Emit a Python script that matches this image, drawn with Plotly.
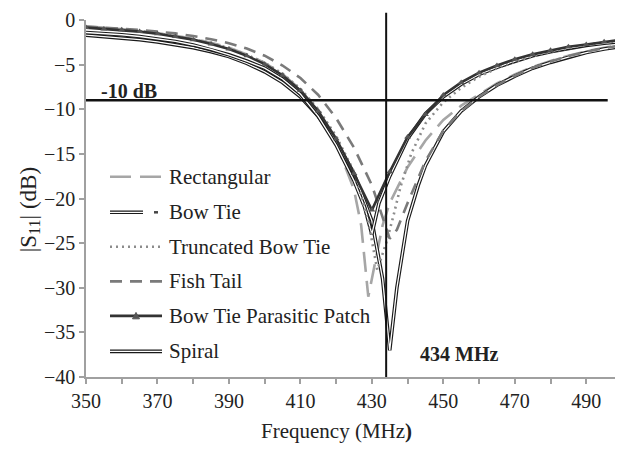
import plotly.graph_objects as go

# ---------------- data ----------------
freq_btpp = [350, 355, 360, 365, 370, 375, 380, 385, 390, 395, 400, 405, 410, 415, 420,
             425, 430, 435, 440, 445, 450, 455, 460, 465, 470, 475, 480, 485, 490, 495, 500]
s11_btpp = [-0.85, -1.0, -1.1, -1.3, -1.55, -1.85, -2.2, -2.7, -3.25, -4.0, -4.95, -6.2, -7.9,
            -10.2, -13.3, -17.2, -21.3, -17.0, -13.1, -10.6, -8.4, -7.0, -5.9, -5.1, -4.4,
            -3.85, -3.4, -3.0, -2.75, -2.45, -2.2]

freq_rect = [350, 355, 360, 365, 370, 375, 380, 385, 390, 395, 400, 405, 410, 415, 420, 425,
             427, 429, 431, 433, 435, 440, 445, 450, 455, 460, 465, 470, 475, 480, 485, 490, 495, 500]
s11_rect = [-0.7, -0.85, -1.0, -1.2, -1.45, -1.75, -2.1, -2.55, -3.1, -3.85, -4.8, -6.05, -7.8,
            -10.3, -13.8, -19.0, -23.0, -31.0, -27.0, -23.0, -20.5, -16.5, -13.5, -11.2, -9.6,
            -8.3, -7.1, -6.1, -5.25, -4.6, -4.0, -3.5, -3.1, -2.8]

freq_bowtie = [350, 355, 360, 365, 370, 375, 380, 385, 390, 395, 400, 405, 410, 415, 420, 425,
               428, 430, 432, 435, 440, 445, 450, 455, 460, 465, 470, 475, 480, 485, 490, 495, 500]
s11_bowtie = [-1.4, -1.5, -1.65, -1.85, -2.1, -2.4, -2.8, -3.3, -3.9, -4.6, -5.4, -6.6, -8.3,
              -10.8, -14.0, -18.0, -21.0, -24.0, -20.5, -17.5, -13.3, -10.5, -8.6, -7.2, -6.1,
              -5.3, -4.6, -4.0, -3.55, -3.15, -2.85, -2.6, -2.4]

freq_trunc = [350, 355, 360, 365, 370, 375, 380, 385, 390, 395, 400, 405, 410, 415, 420, 425,
              429, 431.5, 434, 436, 438, 441, 445, 450, 455, 460, 465, 470, 475, 480, 485, 490, 495, 500]
s11_trunc = [-0.8, -0.95, -1.05, -1.25, -1.5, -1.8, -2.15, -2.6, -3.15, -3.9, -4.8, -6.0, -7.7,
             -10.0, -13.0, -17.0, -22.5, -28.0, -25.0, -22.0, -18.7, -15.0, -11.6, -9.2, -7.6,
             -6.35, -5.4, -4.65, -4.05, -3.55, -3.15, -2.8, -2.5, -2.3]

freq_fish = [350, 355, 360, 365, 370, 375, 380, 385, 390, 395, 400, 405, 410, 415, 420, 425,
             430, 433, 435, 437, 440, 445, 450, 455, 460, 465, 470, 475, 480, 485, 490, 495, 500]
s11_fish = [-0.75, -0.85, -0.95, -1.1, -1.3, -1.5, -1.8, -2.15, -2.6, -3.2, -4.0, -5.1, -6.5,
            -8.4, -11.0, -14.3, -18.5, -22.0, -24.5, -23.5, -20.5, -15.8, -12.4, -10.2, -8.6,
            -7.3, -6.25, -5.35, -4.65, -4.05, -3.55, -3.15, -2.85]

freq_spiral = [350, 355, 360, 365, 370, 375, 380, 385, 390, 395, 400, 405, 410, 415, 420, 425,
               430, 433, 435, 437, 440, 443, 445, 450, 455, 460, 465, 470, 475, 480, 485, 490, 495, 500]
s11_spiral = [-1.7, -1.85, -2.0, -2.2, -2.45, -2.75, -3.1, -3.55, -4.1, -4.85, -5.8, -7.0, -8.6,
              -10.8, -13.6, -17.2, -22.5, -29.0, -37.0, -30.0, -22.5, -18.5, -16.3, -12.5, -10.2,
              -8.6, -7.3, -6.3, -5.4, -4.75, -4.15, -3.65, -3.25, -2.95]

legend_names = ["Rectangular", "Bow Tie", "Truncated Bow Tie", "Fish Tail",
                "Bow Tie Parasitic Patch", "Spiral"]

ref_level_db = -9.0
ref_line_x = [350, 496]
marker_freq = 434
x_tick_step = 20
y_tick_step = 5

FONT = "Liberation Serif, Times New Roman, DejaVu Serif, serif"
DARK = "#1a1a1a"

fig = go.Figure()


def add_double(x, y, name):
    fig.add_trace(go.Scatter(x=x, y=y, mode="lines", name=name, showlegend=False,
                             line=dict(color=DARK, width=3.6)))
    fig.add_trace(go.Scatter(x=x, y=y, mode="lines", name=name, showlegend=False,
                             hoverinfo="skip", line=dict(color="white", width=1.3)))


fig.add_trace(go.Scatter(x=freq_rect, y=s11_rect, mode="lines", name=legend_names[0], showlegend=False,
                         line=dict(color="#a6a6a6", width=2.6, dash="20px,9px")))
add_double(freq_spiral, s11_spiral, legend_names[5])
add_double(freq_bowtie, s11_bowtie, legend_names[1])
fig.add_trace(go.Scatter(x=freq_trunc, y=s11_trunc, mode="lines", name=legend_names[2], showlegend=False,
                         line=dict(color="#8c8c8c", width=2.6, dash="2px,4px")))
fig.add_trace(go.Scatter(x=freq_fish, y=s11_fish, mode="lines", name=legend_names[3], showlegend=False,
                         line=dict(color="#7a7a7a", width=2.6, dash="12px,8px")))
fig.add_trace(go.Scatter(x=freq_btpp, y=s11_btpp, mode="lines+markers", name=legend_names[4],
                         showlegend=False, line=dict(color="#333333", width=2.6),
                         marker=dict(symbol="triangle-up", size=6, color="#555555")))

# reference lines
fig.add_shape(type="line", xref="x", yref="y", x0=ref_line_x[0], x1=ref_line_x[1],
              y0=ref_level_db, y1=ref_level_db, line=dict(color="#111111", width=2.5))
fig.add_shape(type="line", xref="x", yref="paper", x0=marker_freq, x1=marker_freq,
              y0=0, y1=1.02, line=dict(color="#111111", width=2))

fig.add_annotation(x=353.5, y=-8.0, xref="x", yref="y", text="<b>-10 dB</b>", showarrow=False,
                   xanchor="left", yanchor="middle", font=dict(family=FONT, size=20, color="#222"))
fig.add_annotation(x=443, y=-37.4, xref="x", yref="y", text="<b>434 MHz</b>", showarrow=False,
                   xanchor="left", yanchor="middle", font=dict(family=FONT, size=20, color="#222"))

# ---------------- custom legend (page-pixel positions -> paper coords) ----------------
OFF = 8                     # default body margin of the html page
PL, PT, PW, PH = 86, 15, 536, 362   # plot area in page pixels
FIG_W, FIG_H = 623 - OFF, 453 - OFF


def px(xp):
    return (xp - PL) / PW


def py(yp):
    return (PT + PH - yp) / PH


rows = [174, 210, 245, 280, 315, 351]
sx0, sx1 = 110, 162
leg = []
leg.append(dict(type="line", x0=px(sx0), x1=px(sx1), y0=py(rows[0]), y1=py(rows[0]),
                line=dict(color="#a6a6a6", width=2.6, dash="21px,9px")))
leg.append(dict(type="line", x0=px(sx0), x1=px(143), y0=py(rows[1]), y1=py(rows[1]),
                line=dict(color=DARK, width=3.6)))
leg.append(dict(type="line", x0=px(sx0), x1=px(143), y0=py(rows[1]), y1=py(rows[1]),
                line=dict(color="white", width=1.3)))
leg.append(dict(type="line", x0=px(154), x1=px(158), y0=py(rows[1]), y1=py(rows[1]),
                line=dict(color="#444", width=2.5)))
leg.append(dict(type="line", x0=px(sx0), x1=px(sx1), y0=py(rows[2]), y1=py(rows[2]),
                line=dict(color="#8c8c8c", width=2.6, dash="2px,4px")))
leg.append(dict(type="line", x0=px(sx0), x1=px(sx1), y0=py(rows[3]), y1=py(rows[3]),
                line=dict(color="#7a7a7a", width=2.6, dash="12px,8px")))
leg.append(dict(type="line", x0=px(sx0), x1=px(sx1), y0=py(rows[4]), y1=py(rows[4]),
                line=dict(color="#333333", width=2.6)))
tri_x, tri_y = 136, rows[4]
leg.append(dict(type="path",
                path=f"M {px(tri_x-3.5)} {py(tri_y+3)} L {px(tri_x+3.5)} {py(tri_y+3)} L {px(tri_x)} {py(tri_y-3.5)} Z",
                fillcolor="#555555", line=dict(color="#555555", width=1)))
leg.append(dict(type="line", x0=px(sx0), x1=px(sx1), y0=py(rows[5]), y1=py(rows[5]),
                line=dict(color=DARK, width=3.6)))
leg.append(dict(type="line", x0=px(sx0), x1=px(sx1), y0=py(rows[5]), y1=py(rows[5]),
                line=dict(color="white", width=1.3)))
for s in leg:
    s.update(xref="paper", yref="paper")
    fig.add_shape(**s)

for name, r in zip(legend_names, rows):
    fig.add_annotation(x=px(167), y=py(r), xref="paper", yref="paper", text=name, showarrow=False,
                       xanchor="left", yanchor="middle", font=dict(family=FONT, size=21, color="#222"))

# axis titles as annotations (positioned like the reference)
fig.add_annotation(x=px(336), y=py(432), xref="paper", yref="paper",
                   text="Frequency (MHz<b>)</b>", showarrow=False, xanchor="center", yanchor="middle",
                   font=dict(family=FONT, size=21, color="#222"))
fig.add_annotation(x=px(30), y=py(208), xref="paper", yref="paper",
                   text="|S<sub>11</sub>| (dB)", showarrow=False, textangle=-90,
                   xanchor="center", yanchor="middle",
                   font=dict(family=FONT, size=23, color="#222"))

axis_common = dict(showgrid=False, zeroline=False, showline=True, linecolor="#a0a0a0", linewidth=1.5,
                   ticks="outside", ticklen=5, tickcolor="#a0a0a0", tickwidth=1.5,
                   ticklabeloverflow="allow",
                   tickfont=dict(family=FONT, size=20, color="#222"))

fig.update_layout(
    width=FIG_W, height=FIG_H,
    margin=dict(l=PL - OFF, r=FIG_W - (PL - OFF) - PW, t=PT - OFF, b=FIG_H - (PT - OFF) - PH),
    paper_bgcolor="white", plot_bgcolor="white",
    showlegend=False,
    xaxis=dict(range=[350, 500], tick0=350, dtick=x_tick_step,
               minor=dict(dtick=10, tick0=350, ticks="outside", ticklen=5, tickcolor="#a0a0a0",
                          tickwidth=1.5),
               **axis_common),
    yaxis=dict(range=[-40, 0], dtick=y_tick_step, **axis_common),
)

fig.write_html("out.html")
